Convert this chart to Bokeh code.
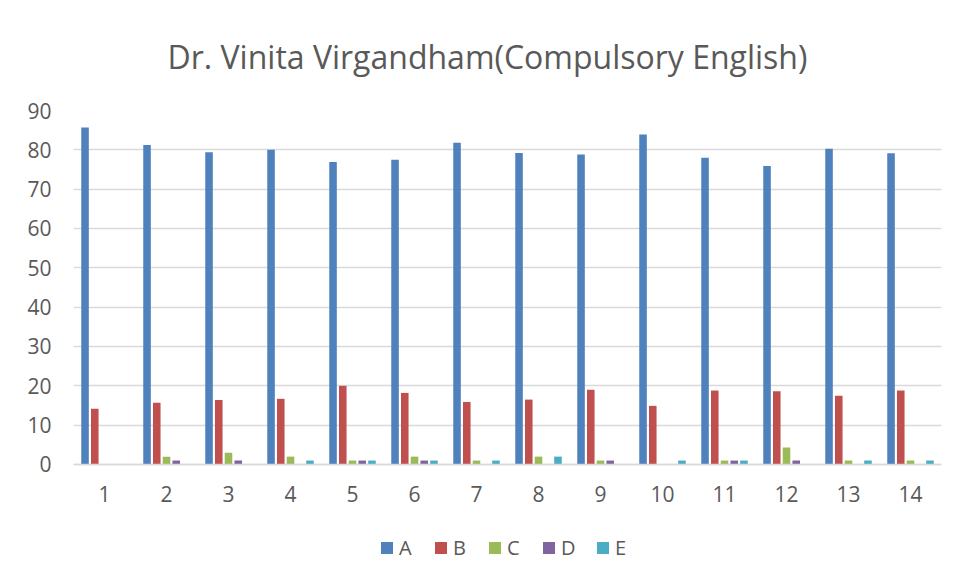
from bokeh.plotting import figure
from bokeh.models import ColumnDataSource, Range1d, FixedTicker, Legend, LegendItem, Title
from bokeh.transform import dodge
from bokeh.embed import file_html
from bokeh.resources import INLINE

categories = list(range(1, 15))
series_names = ["A", "B", "C", "D", "E"]
A = [85.7, 81.2, 79.4, 80.0, 76.9, 77.5, 81.8, 79.2, 78.8, 83.9, 78.0, 75.9, 80.3, 79.1]
B = [14.2, 15.7, 16.4, 16.7, 20.0, 18.2, 15.9, 16.5, 19.0, 14.9, 18.8, 18.6, 17.5, 18.8]
C = [0, 2, 3, 2, 1, 2, 1, 2, 1, 0, 1, 4.3, 1, 1]
D = [0, 1, 1, 0, 1, 1, 0, 0, 1, 0, 1, 1, 0, 0]
E = [0, 0, 0, 1, 1, 1, 1, 2, 0, 1, 1, 0, 1, 1]
colors = ["#4f81bd", "#c0504d", "#9bbb59", "#8064a2", "#4bacc6"]
yticks = [0, 10, 20, 30, 40, 50, 60, 70, 80, 90]

src = ColumnDataSource(dict(x=categories, A=A, B=B, C=C, D=D, E=E))

# frame extends below zero to host the category labels and the legend
p = figure(frame_width=868, frame_height=462, output_backend="svg", toolbar_location=None,
           x_range=Range1d(0.5, 14.5), y_range=Range1d(-27.46, 90),
           min_border_left=73, min_border_right=9, min_border_top=108, min_border_bottom=0)
p.outline_line_color = None
p.background_fill_color = "white"

p.title = Title(text="Dr. Vinita Virgandham(Compulsory English)", align="left",
                offset=94, standoff=65, text_font="Open Sans", text_font_size="32px",
                text_color="#595959", text_font_style="normal")

step = 0.157
bw = 0.122
items = []
for i, (name, col) in enumerate(zip(series_names, colors)):
    r = p.vbar(x=dodge("x", (i - 2) * step, range=p.x_range), top=name, width=bw,
               source=src, fill_color=col, line_color=None)
    items.append(LegendItem(label=name, renderers=[r]))

p.xgrid.grid_line_color = None
p.ygrid.grid_line_color = "#d9d9d9"
p.ygrid.grid_line_width = 1.3
p.yaxis.ticker = FixedTicker(ticks=yticks)
p.xaxis.ticker = FixedTicker(ticks=categories)
for ax in (p.xaxis[0], p.yaxis[0]):
    ax.major_tick_line_color = None
    ax.minor_tick_line_color = None
    ax.major_label_text_font = "Open Sans"
    ax.major_label_text_font_size = "21px"
    ax.major_label_text_color = "#595959"
p.yaxis.axis_line_color = None
p.yaxis.major_label_standoff = 16
p.xaxis.fixed_location = 0
p.xaxis.axis_line_color = "#d9d9d9"
p.xaxis.axis_line_width = 1.5
p.xaxis.major_label_standoff = 16

legend = Legend(items=items, orientation="horizontal", location="bottom_center",
                glyph_width=15, glyph_height=15, label_standoff=5, spacing=14,
                label_text_font="Open Sans", label_text_font_size="20px",
                label_text_color="#595959", border_line_color=None,
                background_fill_alpha=0, margin=11, padding=5)
p.add_layout(legend, "center")

open("out.html", "w").write(file_html(p, INLINE))
